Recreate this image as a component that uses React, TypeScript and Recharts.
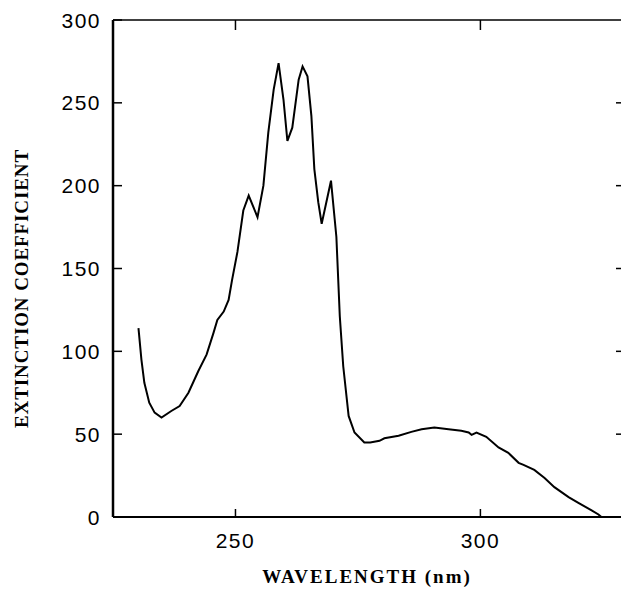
import React from 'react'
import { LineChart, Line, XAxis, YAxis, Label } from 'recharts'

// wavelength (nm)
const wavelengths = [
  230.2, 230.8, 231.4, 232.4, 233.5, 234.9, 236.9, 238.6, 240.4, 242.4,
  244.1, 245.5, 246.3, 247.6, 248.6, 249.3, 250.4, 251.6, 252.7, 254.5,
  255.7, 256.7, 257.8, 258.8, 259.8, 260.6, 261.6, 262.9, 263.7, 264.7,
  265.5, 266.1, 266.9, 267.6, 269.5, 270.6, 271.3, 272.0, 273.1, 274.3,
  276.3, 277.5, 279.4, 280.4, 283.3, 285.9, 288.0, 290.6, 293.5, 296.1,
  297.6, 298.2, 299.2, 301.2, 303.7, 305.7, 307.8, 308.8, 311.0, 313.1,
  315.1, 318.0, 320.0, 322.7, 324.1, 324.7,
]

const extinction = [
  114, 95, 81, 69, 63, 60, 64, 67, 75, 88,
  98, 111, 119, 124, 131, 143, 160, 185, 194, 181,
  200, 232, 258, 274, 252, 227, 235, 264, 272, 266,
  242, 210, 190, 177, 203, 169, 121, 91, 61, 51,
  45, 45, 46, 47.5, 49, 51.4, 53, 54, 53, 52,
  51, 49.6, 51, 48.4, 42, 38.7, 32.7, 31.5, 28.4, 23.6,
  18, 12, 8.5, 4, 1.5, 0,
]

const xTicks = [250, 300]
const yTicks = [0, 50, 100, 150, 200, 250, 300]
const rightTicks = [50, 100, 150, 200, 250]
const xDomain = [225, 328.7]

const data = wavelengths.map((w, i) => ({ w, e: extinction[i] }))

const tickFont = { fontFamily: 'Liberation Sans, Arial, sans-serif', fontSize: 21, letterSpacing: 1.5 }
const titleFont = { fontFamily: 'Liberation Serif, serif', fontSize: 19, fontWeight: 'bold' as const }

const LeftTick = (props: any) => {
  const { x, y, payload } = props
  return (
    <g>
      <line x1={x} x2={x + 9} y1={y} y2={y} stroke="#000" strokeWidth={1.5} />
      <text x={x - 12} y={y} textAnchor="end" dominantBaseline="central" fill="#000" style={tickFont}>
        {payload.value}
      </text>
    </g>
  )
}

const BottomTick = (props: any) => {
  const { x, y, payload } = props
  return (
    <g>
      <line x1={x} x2={x} y1={y} y2={y - 8} stroke="#000" strokeWidth={1.5} />
      <text x={x} y={y + 23} textAnchor="middle" dominantBaseline="central" fill="#000" style={tickFont}>
        {payload.value}
      </text>
    </g>
  )
}

const TopTick = (props: any) => {
  const { x, y } = props
  return <line x1={x} x2={x} y1={y} y2={y + 10} stroke="#000" strokeWidth={1.5} />
}

const RightTick = (props: any) => {
  const { x, y } = props
  return <line x1={x - 5} x2={x} y1={y} y2={y} stroke="#000" strokeWidth={1.5} />
}

export default function App() {
  return (
    <div style={{ position: 'absolute', left: 0, top: 0, background: '#fff' }}>
      <LineChart width={622} height={590} data={data} margin={{ top: 19, right: 0, bottom: 0, left: 0 }}>
        <XAxis
          dataKey="w"
          type="number"
          domain={xDomain}
          ticks={xTicks}
          height={73}
          tickSize={0}
          tickMargin={0}
          tickLine={false}
          tick={<BottomTick />}
          axisLine={{ stroke: '#000', strokeWidth: 2 }}
          allowDataOverflow
        >
          <Label
            value="WAVELENGTH (nm)"
            position="insideBottom"
            offset={7}
            fill="#000"
            style={{ ...titleFont, letterSpacing: 2 }}
          />
        </XAxis>
        <XAxis
          xAxisId="top"
          orientation="top"
          dataKey="w"
          type="number"
          domain={xDomain}
          ticks={xTicks}
          height={1}
          tickSize={0}
          tickMargin={0}
          tickLine={false}
          tick={<TopTick />}
          axisLine={{ stroke: '#000', strokeWidth: 1.5 }}
          allowDataOverflow
        />
        <YAxis
          type="number"
          domain={[0, 300]}
          ticks={yTicks}
          width={113}
          tickSize={0}
          tickMargin={0}
          tickLine={false}
          tick={<LeftTick />}
          axisLine={{ stroke: '#000', strokeWidth: 2.5 }}
        >
          <Label
            position="insideLeft"
            content={({ viewBox }: any) => {
              const cx = viewBox.x + 21
              const cy = viewBox.y + viewBox.height / 2 + 20
              return (
                <text
                  x={cx}
                  y={cy}
                  transform={`rotate(-90, ${cx}, ${cy})`}
                  textAnchor="middle"
                  dominantBaseline="central"
                  fill="#000"
                  style={{ ...titleFont, letterSpacing: 0.9 }}
                >
                  EXTINCTION COEFFICIENT
                </text>
              )
            }}
          />
        </YAxis>
        <YAxis
          yAxisId="right"
          orientation="right"
          type="number"
          domain={[0, 300]}
          ticks={rightTicks}
          width={1}
          tickSize={0}
          tickMargin={0}
          tickLine={false}
          tick={<RightTick />}
          axisLine={false}
        />
        <Line
          type="linear"
          dataKey="e"
          stroke="#000"
          strokeWidth={2}
          dot={false}
          isAnimationActive={false}
        />
        {/* invisible copy so the top and right frame axes get linked and drawn */}
        <Line
          xAxisId="top"
          yAxisId="right"
          type="linear"
          dataKey="e"
          stroke="none"
          dot={false}
          legendType="none"
          isAnimationActive={false}
        />
      </LineChart>
    </div>
  )
}
